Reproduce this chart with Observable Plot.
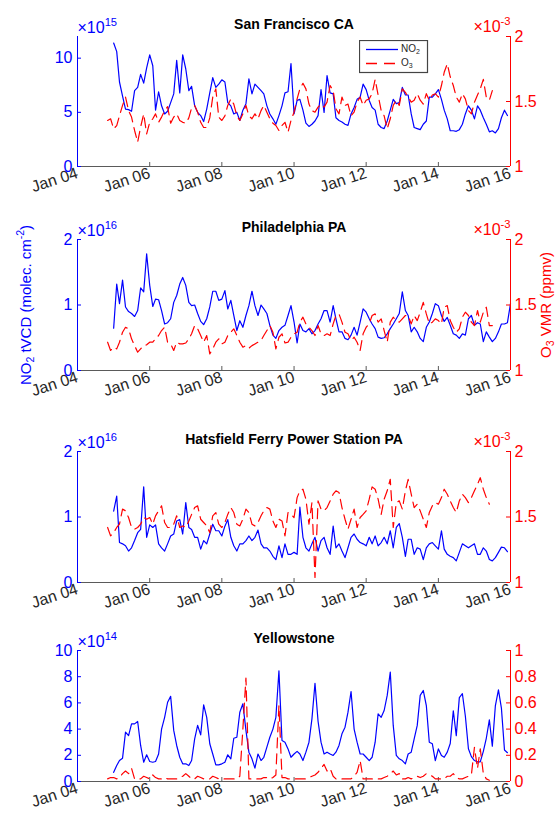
<!DOCTYPE html>
<html><head><meta charset="utf-8">
<script src="https://cdn.jsdelivr.net/npm/d3@7"></script>
<script src="https://cdn.jsdelivr.net/npm/@observablehq/plot@0.6"></script>
<style>
body{margin:0;background:#fff;}
#fig{position:relative;width:556px;height:816px;overflow:hidden;background:#fff;}
#fig svg{position:absolute;left:0;}
</style></head><body><div id="fig"></div>
<script>
// ---------- data ----------
const xTickYears = [2004, 2006, 2008, 2010, 2012, 2014, 2016];
const xTickLabels = ["Jan 04", "Jan 06", "Jan 08", "Jan 10", "Jan 12", "Jan 14", "Jan 16"];
const titles = ["San Francisco CA", "Philadelphia PA", "Hatsfield Ferry Power Station PA", "Yellowstone"];
const legendLabels = ["NO_{2}", "O_{3}"];
const no2AxisLabel = "NO_{2} tVCD (molec. cm^{-2})";
const o3AxisLabel = "O_{3} VMR (ppmv)";
const no2Exponents = ["×10^{15}", "×10^{16}", "×10^{16}", "×10^{14}"];
const o3Exponents = ["×10^{-3}", "×10^{-3}", "×10^{-3}", null];
const no2Domains = [[0, 12], [0, 2], [0, 2], [0, 10]];
const no2Ticks = [[0, 5, 10], [0, 1, 2], [0, 1, 2], [0, 2, 4, 6, 8, 10]];
const o3Domains = [[1, 2], [1, 2], [1, 2], [0, 1]];
const o3Ticks = [[1, 1.5, 2], [1, 1.5, 2], [1, 1.5, 2], [0, 0.2, 0.4, 0.6, 0.8, 1]];
const no2StartMonth = [2005, 0];   // monthly series start Jan 2005
const o3StartMonth = [2004, 10];   // monthly series start Nov 2004

const sfNO2 = [11.4, 10.6, 7.8, 6.5, 5.3, 5.25, 5.1, 7.0, 7.3, 8.5, 7.7, 9.1,
 10.3, 9.3, 5.2, 6.9, 5.6, 4.85, 5.1, 5.9, 6.7, 9.8, 6.8, 10.3,
 9.0, 7.0, 7.4, 5.6, 5.0, 4.7, 4.15, 5.3, 6.8, 8.2, 7.3, 7.6,
 8.0, 7.8, 5.9, 5.6, 4.85, 5.0, 4.25, 5.2, 5.8, 8.1, 6.7, 7.6,
 7.3, 7.0, 6.7, 5.6, 4.85, 4.4, 3.9, 4.7, 5.6, 6.8, 6.9, 9.5,
 4.85, 6.1, 6.2, 5.2, 4.0, 3.7, 3.9, 4.2, 4.7, 7.1, 5.0, 8.4,
 6.8, 6.7, 4.5, 4.25, 4.1, 3.9, 3.8, 4.85, 5.45, 6.2, 6.4, 7.6,
 7.1, 6.1, 5.45, 5.2, 3.9, 3.6, 3.5, 4.2, 5.2, 6.2, 5.8, 5.9,
 7.3, 6.6, 6.6, 4.85, 3.6, 3.5, 3.4, 3.9, 4.2, 6.4, 6.4, 6.7,
 7.1, 6.2, 5.2, 4.4, 3.3, 3.3, 3.25, 3.4, 3.9, 4.85, 5.6, 5.2,
 4.4, 5.6, 5.2, 4.5, 3.9, 3.2, 3.3, 3.1, 3.5, 4.5, 5.2, 4.7];
const sfO3 = [1.354, 1.367, 1.29, 1.315, 1.39, 1.47, 1.534, 1.43, 1.38, 1.277, 1.187, 1.304,
 1.405, 1.251, 1.34, 1.367, 1.405, 1.34, 1.38, 1.43, 1.46, 1.333, 1.38, 1.405,
 1.354, 1.34, 1.333, 1.374, 1.451, 1.469, 1.418, 1.34, 1.30, 1.30, 1.374, 1.534,
 1.597, 1.38, 1.354, 1.39, 1.47, 1.52, 1.48, 1.39, 1.354, 1.405, 1.47, 1.39,
 1.367, 1.405, 1.367, 1.43, 1.47, 1.418, 1.367, 1.333, 1.315, 1.277, 1.315, 1.34,
 1.264, 1.354, 1.418, 1.52, 1.597, 1.64, 1.597, 1.48, 1.43, 1.418, 1.457, 1.48,
 1.457, 1.495, 1.623, 1.584, 1.444, 1.405, 1.534, 1.47, 1.48, 1.39, 1.418, 1.495,
 1.534, 1.47, 1.51, 1.52, 1.56, 1.67, 1.55, 1.43, 1.39, 1.29, 1.367, 1.47,
 1.51, 1.47, 1.597, 1.57, 1.534, 1.495, 1.51, 1.56, 1.51, 1.48, 1.56, 1.51,
 1.55, 1.56, 1.534, 1.623, 1.725, 1.79, 1.69, 1.623, 1.534, 1.495, 1.56, 1.52,
 1.43, 1.405, 1.495, 1.55, 1.597, 1.67, 1.534, 1.51, 1.584];

const phNO2 = [0.646, 1.32, 1.02, 1.38, 0.97, 0.90, 0.87, 0.825, 0.915, 1.26, 1.20, 1.78,
 1.30, 0.977, 1.09, 1.08, 0.915, 0.71, 0.73, 0.79, 1.04, 1.145, 1.32, 1.42,
 1.30, 1.04, 0.99, 1.0, 0.87, 0.75, 0.70, 0.79, 0.97, 1.21, 1.21, 1.07,
 1.09, 1.22, 0.94, 1.07, 0.84, 0.61, 0.76, 0.66, 0.84, 0.99, 1.21, 0.99,
 0.84, 1.0, 0.94, 0.87, 0.69, 0.54, 0.49, 0.61, 0.66, 0.69, 0.84, 0.99,
 0.74, 0.42, 0.71, 0.61, 0.59, 0.64, 0.56, 0.61, 0.71, 0.79, 0.915, 0.915,
 0.74, 0.99, 0.79, 0.59, 0.59, 0.49, 0.47, 0.54, 0.66, 0.54, 0.74, 0.94,
 0.89, 0.79, 0.71, 0.64, 0.51, 0.49, 0.50, 0.56, 0.64, 0.71, 0.79, 0.87,
 1.20, 0.915, 0.84, 0.59, 0.66, 0.59, 0.49, 0.44, 0.66, 0.74, 0.87, 1.02,
 0.99, 0.84, 0.75, 0.81, 0.69, 0.56, 0.54, 0.49, 0.56, 0.54, 0.79, 0.84,
 0.69, 0.73, 0.71, 0.44, 0.59, 0.51, 0.44, 0.49, 0.59, 0.71, 0.71, 0.73, 1.02];
const phO3 = [1.216, 1.153, 1.178, 1.165, 1.216, 1.292, 1.33, 1.318, 1.242, 1.19, 1.14, 1.165,
 1.19, 1.196, 1.216, 1.216, 1.242, 1.267, 1.305, 1.33, 1.216, 1.203, 1.153, 1.216,
 1.203, 1.203, 1.21, 1.242, 1.28, 1.343, 1.318, 1.267, 1.216, 1.267, 1.127, 1.165,
 1.216, 1.242, 1.203, 1.216, 1.267, 1.292, 1.318, 1.267, 1.216, 1.178, 1.19, 1.17,
 1.19, 1.203, 1.216, 1.229, 1.267, 1.305, 1.343, 1.292, 1.165, 1.254, 1.28, 1.21,
 1.216, 1.254, 1.28, 1.292, 1.369, 1.407, 1.356, 1.33, 1.305, 1.267, 1.343, 1.28,
 1.267, 1.28, 1.267, 1.356, 1.42, 1.432, 1.369, 1.292, 1.28, 1.229, 1.254, 1.216,
 1.153, 1.28, 1.33, 1.356, 1.42, 1.432, 1.369, 1.394, 1.305, 1.216, 1.369, 1.407,
 1.381, 1.369, 1.394, 1.42, 1.42, 1.356, 1.42, 1.381, 1.445, 1.52, 1.432, 1.356,
 1.369, 1.394, 1.381, 1.356, 1.483, 1.496, 1.381, 1.33, 1.292, 1.318, 1.407, 1.445,
 1.42, 1.369, 1.343, 1.458, 1.369, 1.445, 1.483, 1.343, 1.343];

const hfNO2 = [1.09, 1.32, 0.61, 0.59, 0.56, 0.48, 0.53, 0.64, 0.76, 0.81, 1.46, 0.69,
 0.88, 0.84, 0.88, 0.59, 0.53, 0.48, 0.59, 0.71, 0.74, 0.94, 0.96, 0.74,
 1.22, 0.84, 0.81, 0.69, 0.69, 0.51, 0.64, 0.59, 0.74, 0.89, 0.79, 0.79,
 0.71, 0.86, 0.96, 0.69, 0.56, 0.48, 0.59, 0.59, 0.64, 0.71, 0.64, 0.69,
 0.80, 0.59, 0.53, 0.53, 0.48, 0.40, 0.35, 0.56, 0.38, 0.59, 0.43, 0.43,
 0.46, 0.43, 1.15, 0.69, 0.53, 0.48, 0.59, 0.69, 0.48, 0.64, 0.69, 0.53,
 0.43, 0.86, 0.53, 0.59, 0.48, 0.38, 0.53, 0.69, 0.74, 0.66, 0.61, 0.59,
 0.56, 0.69, 0.59, 0.71, 0.56, 0.61, 0.69, 0.59, 0.79, 0.53, 0.84, 0.90,
 0.69, 0.40, 0.66, 0.66, 0.43, 0.53, 0.51, 0.35, 0.53, 0.59, 0.61, 0.56,
 0.51, 0.79, 0.51, 0.43, 0.40, 0.38, 0.33, 0.46, 0.59, 0.56, 0.53, 0.56,
 0.59, 0.43, 0.43, 0.53, 0.48, 0.35, 0.33, 0.38, 0.46, 0.54, 0.53, 0.47];
const hfO3 = [1.42, 1.356, 1.381, 1.42, 1.445, 1.56, 1.547, 1.496, 1.42, 1.407, 1.42, 1.445,
 1.496, 1.483, 1.496, 1.445, 1.509, 1.547, 1.585, 1.458, 1.42, 1.42, 1.445, 1.509,
 1.42, 1.432, 1.42, 1.47, 1.52, 1.572, 1.585, 1.483, 1.458, 1.432, 1.381, 1.509,
 1.534, 1.445, 1.42, 1.458, 1.52, 1.572, 1.534, 1.445, 1.432, 1.483, 1.56, 1.534,
 1.445, 1.432, 1.458, 1.509, 1.547, 1.572, 1.56, 1.47, 1.42, 1.483, 1.47, 1.356,
 1.534, 1.52, 1.496, 1.648, 1.70, 1.712, 1.636, 1.445, 1.61, 1.038, 1.623, 1.56,
 1.547, 1.572, 1.623, 1.674, 1.70, 1.687, 1.572, 1.483, 1.407, 1.483, 1.56, 1.42,
 1.496, 1.52, 1.547, 1.636, 1.73, 1.712, 1.636, 1.52, 1.636, 1.70, 1.788, 1.42,
 1.61, 1.623, 1.56, 1.70, 1.788, 1.674, 1.572, 1.598, 1.547, 1.483, 1.42, 1.534,
 1.585, 1.61, 1.598, 1.648, 1.712, 1.674, 1.623, 1.572, 1.534, 1.623, 1.674, 1.648,
 1.61, 1.648, 1.70, 1.75, 1.80, 1.712, 1.648, 1.598];

const ysNO2 = [0.70, 1.22, 1.6, 1.78, 3.77, 3.5, 4.4, 4.4, 4.58, 2.75, 1.47, 2.04,
 1.53, 1.47, 1.53, 2.1, 4.0, 4.9, 6.05, 6.5, 3.9, 2.75, 1.85, 1.35,
 1.35, 1.22, 1.6, 3.25, 4.28, 3.56, 5.85, 4.9, 2.88, 2.1, 1.27, 1.27,
 1.35, 1.47, 2.04, 1.73, 3.3, 3.38, 5.29, 5.93, 3.9, 2.24, 1.73, 1.02,
 2.1, 1.6, 1.85, 2.62, 3.38, 4.0, 4.9, 8.45, 3.13, 3.0, 2.49, 1.85,
 2.1, 2.3, 2.1, 1.6, 2.24, 3.0, 4.78, 7.5, 4.6, 3.0, 2.1, 2.24,
 2.1, 1.99, 2.24, 2.75, 3.64, 4.15, 5.29, 6.87, 4.0, 3.0, 2.1, 2.1,
 1.85, 1.6, 1.85, 3.0, 5.17, 4.9, 5.42, 6.57, 8.35, 4.28, 1.99, 1.73,
 1.6, 1.35, 2.1, 2.24, 3.25, 4.28, 6.57, 6.95, 5.8, 3.0, 2.88, 1.6,
 2.49, 1.99, 1.85, 2.24, 2.9, 5.4, 3.5, 6.4, 6.7, 5.0, 2.5, 1.9,
 1.6, 1.5, 1.5, 2.3, 3.3, 4.7, 2.7, 5.8, 7.0, 5.6, 2.4, 2.2];
const ysO3 = [0.02, 0.03, 0.03, 0.02, 0.03, 0.06, 0.08, 0.06, 0.10, 0.02, 0.02, 0.02,
 0.04, 0.03, 0.02, 0.05, 0.03, 0.02, 0.02, 0.03, 0.02, 0.02, 0.02, 0.02,
 0.03, 0.04, 0.06, 0.04, 0.02, 0.02, 0.04, 0.03, 0.02, 0.02, 0.02, 0.04,
 0.03, 0.02, 0.02, 0.02, 0.02, 0.02, 0.02, 0.02, 0.04, 0.40, 0.79, 0.02,
 0.02, 0.02, 0.02, 0.02, 0.03, 0.03, 0.02, 0.03, 0.05, 0.58, 0.03, 0.03,
 0.02, 0.02, 0.02, 0.02, 0.02, 0.02, 0.02, 0.03, 0.04, 0.05, 0.07, 0.10,
 0.13, 0.08, 0.10, 0.04, 0.02, 0.02, 0.02, 0.02, 0.02, 0.02, 0.04, 0.07,
 0.16, 0.02, 0.02, 0.02, 0.02, 0.02, 0.02, 0.02, 0.03, 0.04, 0.06, 0.08,
 0.05, 0.06, 0.02, 0.02, 0.03, 0.02, 0.03, 0.04, 0.03, 0.04, 0.06, 0.05,
 0.04, 0.02, 0.02, 0.02, 0.02, 0.04, 0.04, 0.06, 0.03, 0.02, 0.02, 0.03,
 0.04, 0.05, 0.26, 0.10, 0.25, 0.06, 0.02, 0.01];

const no2Series = [sfNO2, phNO2, hfNO2, ysNO2];
const o3Series = [sfO3, phO3, hfO3, ysO3];

// ---------- layout & style ----------
const W = 556, ML = 77, MR = 46, MT = 36, MB = 40;
const plotTops = [36, 239, 451, 650];
const plotHeights = [130, 131, 131, 131];
const FONT = '"Liberation Sans", Arial, Helvetica, sans-serif';
const BLUE = "#0000ff", RED = "#ff0000", TXT = "#262626", AXLINE = "#5a5a5a";
const TICK_FS = 16;
const plotW = W - ML - MR;

const xDomain = [new Date(Date.UTC(2004, 0, 1)), new Date(Date.UTC(2016, 0, 1))];
const xTickDates = xTickYears.map(y => new Date(Date.UTC(y, 0, 1)));
const xFmt = d => xTickLabels[xTickYears.indexOf(d.getUTCFullYear())];
const no2Start = new Date(Date.UTC(...no2StartMonth, 1));
const o3Start = new Date(Date.UTC(...o3StartMonth, 1));

// rich text: ^{..} superscript, _{..} subscript
function richify(root) {
  root.querySelectorAll("text").forEach(el => {
    const s = el.textContent;
    if (!/[\^_]\{/.test(s)) return;
    const re = /([\^_])\{([^}]*)\}|([^\^_]+)/g;
    let m, cur = 0;
    while (el.firstChild) el.removeChild(el.firstChild);
    while ((m = re.exec(s))) {
      let txt, shift, small;
      if (m[1]) { txt = m[2]; small = true; shift = m[1] === "^" ? -0.42 : 0.24; }
      else { txt = m[3]; small = false; shift = 0; }
      const dyBase = shift - cur; cur = shift;
      const dy = small ? dyBase / 0.7 : dyBase;
      const t = document.createElementNS("http://www.w3.org/2000/svg", "tspan");
      if (small) t.setAttribute("font-size", "70%");
      if (dy) t.setAttribute("dy", dy.toFixed(3) + "em");
      t.textContent = txt;
      el.appendChild(t);
    }
  });
}

const fig = document.getElementById("fig");
function place(svg, top, z) {
  svg.style.top = top + "px";
  svg.style.zIndex = z;
  fig.appendChild(svg);
  richify(svg);
}

for (let k = 0; k < 4; k++) {
  const h = plotHeights[k];
  const H = MT + h + MB;
  const svgTop = plotTops[k] - MT;
  const no2Data = no2Series[k].map((v, i) => ({date: d3.utcMonth.offset(no2Start, i), v}));
  const o3Data = o3Series[k].map((v, i) => ({date: d3.utcMonth.offset(o3Start, i), v}));

  const marksA = [
    Plot.ruleY([no2Domains[k][0]], {stroke: AXLINE}),
    Plot.ruleX(xTickDates, {stroke: AXLINE, insetTop: h - 4}),
    Plot.ruleX([xDomain[0]], {stroke: BLUE}),
    Plot.ruleY(no2Ticks[k], {stroke: BLUE, insetRight: plotW - 4}),
    Plot.axisX({ticks: xTickDates, tickFormat: xFmt, tickSize: 0, tickRotate: -18, textAnchor: "end", tickPadding: 6, fontSize: TICK_FS, fill: TXT, label: null}),
    Plot.axisY({ticks: no2Ticks[k], tickFormat: d => String(d), tickSize: 0, tickPadding: 5, fontSize: TICK_FS, fill: BLUE, label: null}),
    Plot.line(no2Data, {x: "date", y: "v", stroke: BLUE, strokeWidth: 1.2}),
    Plot.text([titles[k]], {text: d => d, frameAnchor: "top", lineAnchor: "bottom", dy: -8, fontSize: 14, fontWeight: "bold", fill: "#000"}),
    Plot.text([no2Exponents[k]], {text: d => d, frameAnchor: "top-left", textAnchor: "start", lineAnchor: "bottom", dy: -4, fontSize: TICK_FS, fill: BLUE})
  ];
  if (k === 1) marksA.push(Plot.text([no2AxisLabel], {text: d => d, frameAnchor: "left", rotate: -90, dx: -47, textAnchor: "middle", lineAnchor: "bottom", fontSize: 15, fill: BLUE}));

  const A = Plot.plot({
    width: W, height: H, marginLeft: ML, marginRight: MR, marginTop: MT, marginBottom: MB,
    style: {background: "none", fontFamily: FONT, overflow: "visible"},
    x: {type: "utc", domain: xDomain, label: null},
    y: {domain: no2Domains[k], label: null},
    marks: marksA
  });
  place(A, svgTop, 1);

  const marksB = [
    Plot.ruleX([xDomain[1]], {stroke: RED}),
    Plot.ruleY(o3Ticks[k], {stroke: RED, insetLeft: plotW - 4}),
    Plot.axisY({anchor: "right", ticks: o3Ticks[k], tickFormat: d => String(d), tickSize: 0, tickPadding: 4, fontSize: TICK_FS, fill: RED, label: null}),
    Plot.line(o3Data, {x: "date", y: "v", stroke: RED, strokeWidth: 1.2, strokeDasharray: "10,6"}),
    o3Exponents[k] ? Plot.text([o3Exponents[k]], {text: d => d, frameAnchor: "top-right", textAnchor: "end", lineAnchor: "bottom", dy: -5, fontSize: TICK_FS, fill: RED}) : null
  ];
  if (k === 1) marksB.push(Plot.text([o3AxisLabel], {text: d => d, frameAnchor: "right", rotate: -90, dx: 40, textAnchor: "middle", lineAnchor: "bottom", fontSize: 15, fill: RED}));

  const B = Plot.plot({
    width: W, height: H, marginLeft: ML, marginRight: MR, marginTop: MT, marginBottom: MB,
    style: {background: "none", fontFamily: FONT, overflow: "visible"},
    x: {type: "utc", domain: xDomain, axis: null, label: null},
    y: {domain: o3Domains[k], axis: null, label: null},
    marks: marksB
  });
  place(B, svgTop, 2);
}

// legend (San Francisco panel)
const legendColors = [BLUE, RED];
const legendDash = ["none", "11,7"];
const lg = d3.create("svg")
  .attr("width", 70).attr("height", 34)
  .style("left", "359px").style("top", "40px").style("z-index", 3)
  .style("font-family", FONT);
lg.append("rect").attr("x", 0.5).attr("y", 0.5).attr("width", 68).attr("height", 32)
  .style("fill", "#fff").style("stroke", "#444").style("stroke-width", "1.2px");
legendLabels.forEach((lab, i) => {
  const y = 9.5 + i * 14;
  lg.append("path").attr("d", `M7,${y}H39`)
    .style("fill", "none")
    .style("stroke", legendColors[i]).style("stroke-width", "1.3px")
    .style("stroke-dasharray", legendDash[i]);
  lg.append("text").attr("x", 42).attr("y", y + 2.5).attr("font-size", 10)
    .style("fill", TXT).text(lab);
});
fig.appendChild(lg.node());
richify(lg.node());
</script></body></html>
